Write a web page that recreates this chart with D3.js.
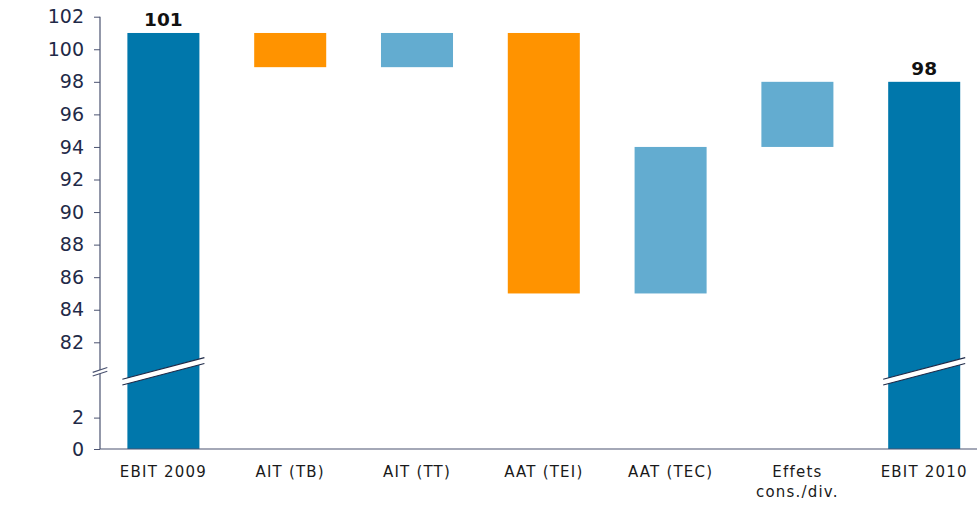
<!DOCTYPE html>
<html>
<head>
<meta charset="utf-8">
<script src="https://cdn.jsdelivr.net/npm/d3@7/dist/d3.min.js"></script>
<style>
  html, body { margin: 0; padding: 0; background: #fff; }
  svg { display: block; }
  .tick text { font-family: "DejaVu Sans", Verdana, sans-serif; }
</style>
</head>
<body>
<svg id="chart" width="977" height="505"></svg>
<script>
// EBIT bridge 2009 -> 2010
const categories = ["EBIT 2009", "AIT (TB)", "AIT (TT)", "AAT (TEI)", "AAT (TEC)", "Effets\ncons./div.", "EBIT 2010"];
const deltas = [101, -2.1, 2.1, -16, 9, 4, 98];
const kinds = ["total", "neg", "pos", "neg", "pos", "pos", "total"];
const upperTicks = [82, 84, 86, 88, 90, 92, 94, 96, 98, 100, 102];
const lowerTicks = [0, 2];

const colors = { total: "#0077ab", neg: "#ff9300", pos: "#63acd0" };
const axisColor = "#4a5270";

// running waterfall segments
let running = 0;
const bars = categories.map((c, i) => {
  let y0, y1;
  if (kinds[i] === "total") { y0 = 0; y1 = deltas[i]; running = deltas[i]; }
  else { y0 = running; y1 = running + deltas[i]; running = y1; }
  return { cat: c, kind: kinds[i], lo: Math.min(y0, y1), hi: Math.max(y0, y1), value: deltas[i] };
});

const svg = d3.select("#chart");

// broken value axis: an upper section and a short lower section near zero
const yUp = d3.scaleLinear().domain([82, 102]).range([342.3, 16.7]);
const yLow = d3.scaleLinear().domain([0, 2]).range([449, 417.6]);
const breakUpper = 80.3, breakLower = 4.8;
const y = v => (v >= 50 ? yUp(v) : yLow(v));

const x = d3.scaleBand().domain(categories).range([100, 987.6])
  .paddingInner(0.432).paddingOuter(0.216);

const axisX = 100;

// bars
svg.append("g").selectAll("rect").data(bars).join("rect")
  .attr("x", d => x(d.cat))
  .attr("width", x.bandwidth())
  .attr("y", d => y(d.hi))
  .attr("height", d => y(d.lo) - y(d.hi))
  .attr("fill", d => colors[d.kind]);

// break marks across the total bars
const slope = -0.263, gap = 5.8, over = 5;
const yBreakMid = (yUp(breakUpper) + yLow(breakLower)) / 2;
const totals = bars.filter(d => d.kind === "total");
totals.forEach(d => {
  const cx = x(d.cat) + x.bandwidth() / 2;
  const hw = x.bandwidth() / 2 + over;
  const yc = yBreakMid - 0.5;
  const top = t => yc - gap / 2 + slope * t;
  const bot = t => yc + gap / 2 + slope * t;
  const g = svg.append("g");
  g.append("polygon")
    .attr("points", [[cx - hw, top(-hw)], [cx + hw, top(hw)], [cx + hw, bot(hw)], [cx - hw, bot(-hw)]].map(p => p.join(",")).join(" "))
    .attr("fill", "#fff");
  [top, bot].forEach(f => {
    g.append("line")
      .attr("x1", cx - hw).attr("y1", f(-hw))
      .attr("x2", cx + hw).attr("y2", f(hw))
      .attr("stroke", "#1f2a48").attr("stroke-width", 1.1);
  });
});

// value labels above total bars
svg.append("g").selectAll("text").data(totals).join("text")
  .attr("x", d => x(d.cat) + x.bandwidth() / 2)
  .attr("y", d => y(d.hi) - 7)
  .attr("text-anchor", "middle")
  .attr("font-family", "'DejaVu Sans', Verdana, sans-serif")
  .attr("font-weight", "bold")
  .attr("font-size", 18.5)
  .attr("fill", "#111")
  .text(d => d.value);

// y axis (two sections)
function styleAxis(g) {
  g.select(".domain").remove();
  g.selectAll(".tick line").attr("stroke", axisColor);
  g.selectAll(".tick text").attr("fill", "#1f2a48").attr("font-size", 19);
}
svg.append("g").attr("transform", `translate(${axisX},0)`)
  .call(d3.axisLeft(yUp).tickValues(upperTicks).tickFormat(d3.format("d")).tickSize(6).tickPadding(10))
  .call(styleAxis);
svg.append("g").attr("transform", `translate(${axisX},0)`)
  .call(d3.axisLeft(yLow).tickValues(lowerTicks).tickFormat(d3.format("d")).tickSize(6).tickPadding(10))
  .call(styleAxis);

svg.append("line").attr("x1", axisX).attr("x2", axisX)
  .attr("y1", yUp(102)).attr("y2", yUp(breakUpper))
  .attr("stroke", axisColor).attr("stroke-width", 1.2);
svg.append("line").attr("x1", axisX).attr("x2", axisX)
  .attr("y1", yLow(breakLower)).attr("y2", yLow(0))
  .attr("stroke", axisColor).attr("stroke-width", 1.2);

// axis break marks
[yUp(breakUpper), yLow(breakLower)].forEach(yy => {
  svg.append("line")
    .attr("x1", axisX - 7.3).attr("y1", yy + 2.4)
    .attr("x2", axisX + 7.3).attr("y2", yy - 2.4)
    .attr("stroke", axisColor).attr("stroke-width", 1.1);
});

// category axis line
svg.append("line").attr("x1", axisX).attr("x2", 977)
  .attr("y1", yLow(0)).attr("y2", yLow(0))
  .attr("stroke", axisColor).attr("stroke-width", 1.2);

// category labels
const lab = svg.append("g").selectAll("text").data(categories).join("text")
  .attr("x", d => x(d) + x.bandwidth() / 2)
  .attr("y", 477)
  .attr("text-anchor", "middle")
  .attr("font-family", "'DejaVu Sans', Verdana, sans-serif")
  .attr("font-size", 15)
  .attr("letter-spacing", 1.2)
  .attr("fill", "#1a1a1a");
lab.each(function (d) {
  const t = d3.select(this);
  d.split("\n").forEach((line, i) => {
    t.append("tspan").attr("x", x(d) + x.bandwidth() / 2).attr("dy", i === 0 ? 0 : 20).text(line);
  });
});
</script>
</body>
</html>
